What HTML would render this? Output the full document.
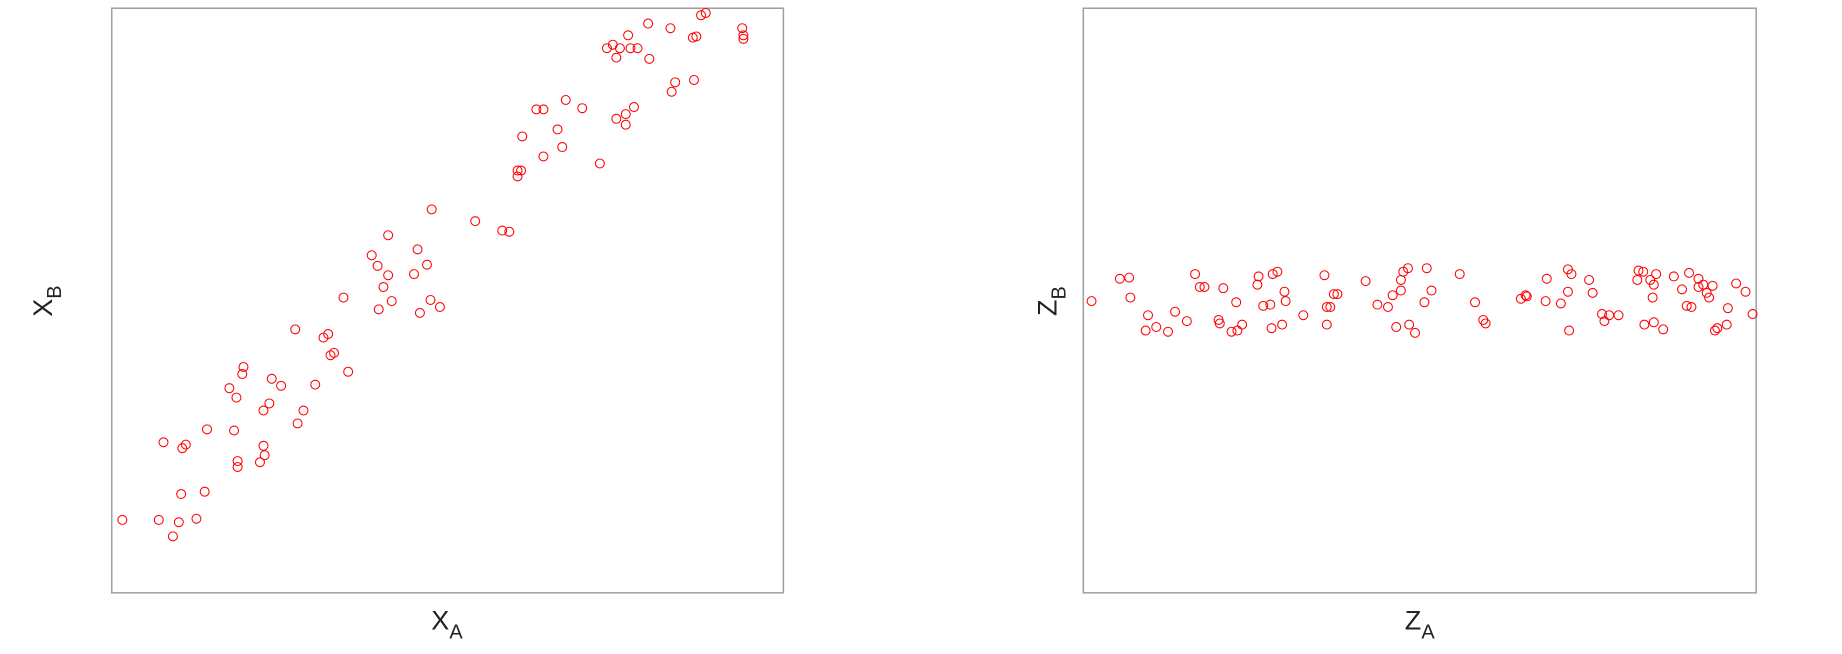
<!DOCTYPE html>
<html><head><meta charset="utf-8"><style>
html,body{margin:0;padding:0;background:#fff;}
svg{display:block;font-family:"Liberation Sans","DejaVu Sans",sans-serif;}
</style></head><body>
<svg id="chart" width="1842" height="654" viewBox="0 0 1566 556" xmlns="http://www.w3.org/2000/svg">
<rect x="95" y="7" width="571" height="497" fill="none" stroke="#a0a0a0" stroke-width="1.3"/>
<rect x="921" y="7" width="572" height="497" fill="none" stroke="#a0a0a0" stroke-width="1.3"/>
<text x="380" y="535" font-size="23" fill="#222" text-anchor="middle">X<tspan font-size="17" dy="8">A</tspan></text>
<text transform="translate(44,256) rotate(-90)" font-size="23" fill="#222" text-anchor="middle">X<tspan font-size="17" dy="8">B</tspan></text>
<text x="1207" y="535" font-size="23" fill="#222" text-anchor="middle">Z<tspan font-size="17" dy="8">A</tspan></text>
<text transform="translate(898,256) rotate(-90)" font-size="23" fill="#222" text-anchor="middle">Z<tspan font-size="17" dy="8">B</tspan></text>
<g id="left-points"></g>
<g id="right-points"></g>
</svg>
<script>
// values in data units (domain 0..571 horizontally, 0..497 vertically)
const xA = [9,40,52,57,72,59,79,44,60,63,81,104,107,107,126,130,129,100,106,111,112,136,144,134,129,163,158,173,156,180,184,186,189,201,197,221,226,235,231,235,238,227,257,260,268,272,271,279,262,309,332,338,345,345,348,349,361,367,367,379,383,386,400,415,429,437,437,444,421,426,429,432,439,441,447,456,457,475,476,479,494,497,495,501,505,536,537,537];
const xB = [62,62,48,60,63,84,86,128,123,126,139,138,112,107,111,117,125,174,166,186,192,182,176,161,155,155,144,177,224,217,220,202,204,188,251,287,278,304,260,270,248,241,271,292,279,326,249,243,238,316,308,307,354,359,359,388,411,411,371,394,379,419,412,365,403,407,398,413,463,466,455,463,474,463,463,484,454,480,426,434,472,473,436,491,493,480,474,471];
const zA = [7,31,39,40,55,53,62,72,78,88,95,99,103,116,119,115,126,130,131,135,148,149,153,159,160,161,165,171,169,172,187,205,207,207,210,213,216,240,250,259,263,266,270,270,272,276,277,282,290,292,296,320,333,340,342,372,376,377,393,394,406,412,412,415,413,430,433,441,443,447,455,471,472,476,477,482,485,487,484,485,493,502,509,515,513,517,523,523,527,530,532,535,537,539,547,548,555,563,569];
const zB = [248,267,268,251,236,223,226,222,239,231,271,260,260,229,259,232,222,247,223,228,262,269,244,245,225,271,273,256,228,248,236,270,243,228,243,254,254,265,245,243,253,226,257,266,273,276,228,221,247,276,257,271,247,232,229,250,253,252,248,267,246,256,275,271,223,266,255,237,231,236,236,266,274,273,228,266,262,271,251,230,224,269,258,272,244,243,260,267,262,255,251,261,223,225,228,242,263,256,237,232,238];
const W = 571, H = 497;
function sx(v, left){ return left + v / 571 * W; }
function sy(v){ return 504 - v / 497 * H; }
const NS = "http://www.w3.org/2000/svg";
function draw(gid, xs, ys, left, name){
  const g = document.getElementById(gid);
  for (let i = 0; i < xs.length; i++){
    const c = document.createElementNS(NS, "circle");
    c.setAttribute("cx", sx(xs[i], left));
    c.setAttribute("cy", sy(ys[i]));
    c.setAttribute("r", 3.8);
    c.setAttribute("fill", "none");
    c.setAttribute("stroke", "#ff0000");
    c.setAttribute("stroke-width", "0.9");
    
    
    g.appendChild(c);
  }
}
draw("left-points", xA, xB, 95, "x-point");
draw("right-points", zA, zB, 921, "z-point");
</script>
</body></html>
